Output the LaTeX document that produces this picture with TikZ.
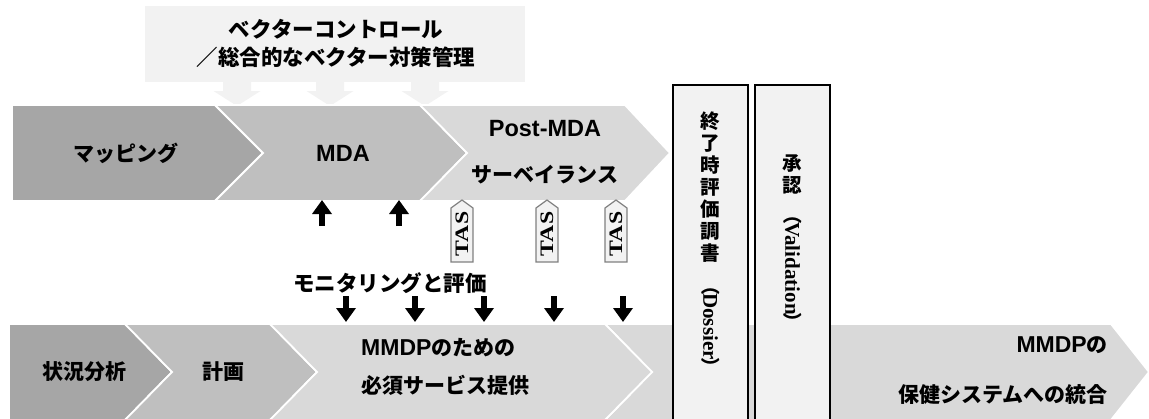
\documentclass[tikz,border=0pt]{standalone}
\usepackage{fontspec}
\usetikzlibrary{arrows.meta}
\newfontfamily\jp{Noto Sans CJK JP}
\newfontfamily\lat{Liberation Sans}
\newfontfamily\tms{Liberation Serif}
\definecolor{gA}{HTML}{A6A6A6}
\definecolor{gB}{HTML}{BFBFBF}
\definecolor{gC}{HTML}{D9D9D9}
\definecolor{gD}{HTML}{F2F2F2}
\definecolor{tagline}{HTML}{808080}
\begin{document}
\begin{tikzpicture}[x=1pt,y=-1pt,
  chev/.style={draw=white, line width=1.8pt, line join=miter},
  jt/.style={font=\jp\bfseries\fontsize{21}{24}\selectfont, inner sep=0pt},
  lt/.style={font=\lat\bfseries\fontsize{23.5}{26}\selectfont, inner sep=0pt},
  vt/.style={font=\jp\bfseries\fontsize{19.5}{22}\selectfont, inner sep=0pt, align=center},
  vbox/.style={draw=black, fill=gD, line width=1.5pt},
  tag/.style={draw=tagline, fill=gD, line width=1.2pt},
  tagtext/.style={font=\tms\bfseries\fontsize{19}{19}\selectfont, inner sep=0pt, rotate=90},
  blk/.style={draw=black, line width=6pt, -{Triangle[width=19pt,length=14pt]}},
]
\newcommand\mmdp{{\lat\fontsize{23}{24}\selectfont MMDP}}
\useasboundingbox (0,0) rectangle (1149,418);
\clip (0,0) rectangle (1149,418);

% top box and its gray arrows
\fill[gD] (145,6) rectangle (525,82);
\node[inner sep=0pt, align=center, font=\jp\bfseries\fontsize{21.5}{28}\selectfont] (vc) at (336,43)
  {ベクターコントロール\\／総合的なベクター対策管理};
\foreach \cx in {237,330,425}{
  \fill[gD] (\cx-14,80) -- (\cx+14,80) -- (\cx+14,91) -- (\cx+23.5,91) -- (\cx,106)
    -- (\cx-23.5,91) -- (\cx-14,91) -- cycle;
}

% top row chevrons
\path[fill=gA, chev] (12,105) -- (215,105) -- (263,153) -- (215,201) -- (12,201) -- cycle;
\path[fill=gB, chev] (215,105) -- (420,105) -- (467,153) -- (420,201) -- (215,201) -- (263,153) -- cycle;
\path[fill=gC, chev] (420,105) -- (625,105) -- (670,153) -- (625,201) -- (420,201) -- (467,153) -- cycle;

\node[jt] (map) at (126,153) {マッピング};
\node[lt] (mda) at (343,153) {MDA};
\node[lt] (post) at (545,129) {Post-MDA};
\node[jt] (surv) at (545,175) {サーベイランス};

% bottom row chevrons
\path[fill=gC, chev] (605,324) -- (1111,324) -- (1149,372) -- (1111,420) -- (605,420) -- (652,372) -- cycle;
\path[fill=gA, chev] (9,324) -- (125,324) -- (172,372) -- (125,420) -- (9,420) -- cycle;
\path[fill=gB, chev] (125,324) -- (270,324) -- (317,372) -- (270,420) -- (125,420) -- (172,372) -- cycle;
\path[fill=gC, chev] (270,324) -- (605,324) -- (652,372) -- (605,420) -- (270,420) -- (317,372) -- cycle;

\node[jt] (sit) at (84,372) {状況分析};
\node[jt] (plan) at (223,372) {計画};
\node[jt, anchor=west] (svc1) at (361,348) {\mmdp のための};
\node[jt, anchor=west] (svc2) at (361,385) {必須サービス提供};
\node[jt, anchor=east] (int1) at (1108,345) {\mmdp の};
\node[jt, anchor=east] (int2) at (1108,395) {保健システムへの統合};

% vertical boxes
\path[vbox] (673,85) rectangle (748,430);
\path[vbox] (755,85) rectangle (830,430);
\node[vt, anchor=north] (dos) at (710.5,112) {終\\了\\時\\評\\価\\調\\書};
\node[rotate=-90, anchor=west, inner sep=0pt] (dosl) at (710.5,279)
  {\jp\bfseries\fontsize{19}{22}\selectfont\kern-3pt（\kern-2pt{\tms\fontsize{21}{22}\selectfont Dossier}\kern-2pt）};
\node[vt, anchor=north] (val) at (792.5,154) {承\\認};
\node[rotate=-90, anchor=west, inner sep=0pt] (vall) at (792.5,208)
  {\jp\bfseries\fontsize{19}{22}\selectfont\kern-3pt（\kern-2pt{\tms\fontsize{21}{22}\selectfont Validation}\kern-2pt）};

% TAS tags
\foreach \cx/\nm in {462/t1,547/t2,616/t3}{
  \path[tag] (\cx-11,262) -- (\cx+11,262) -- (\cx+11,208) -- (\cx,200) -- (\cx-11,208) -- cycle;
  \node[tagtext] (\nm) at (\cx,234) {\scalebox{1.25}[1]{TAS}};
}

% up arrows
\foreach \cx/\nm in {322/ua,399/ub}{
  \coordinate (\nm s) at (\cx,226);
  \coordinate (\nm e) at (\cx,200);
  \draw[blk] (\nm s) -- (\nm e);
}

% monitoring label and down arrows
\node[inner sep=0pt, font=\jp\bfseries\fontsize{21.5}{24}\selectfont] (mon) at (390,283) {モニタリングと評価};
\foreach \cx/\nm in {346/da,415/db,484/dc,554/dd,623/de}{
  \coordinate (\nm s) at (\cx,296);
  \coordinate (\nm e) at (\cx,322);
  \draw[blk] (\nm s) -- (\nm e);
}
\end{tikzpicture}
\end{document}
